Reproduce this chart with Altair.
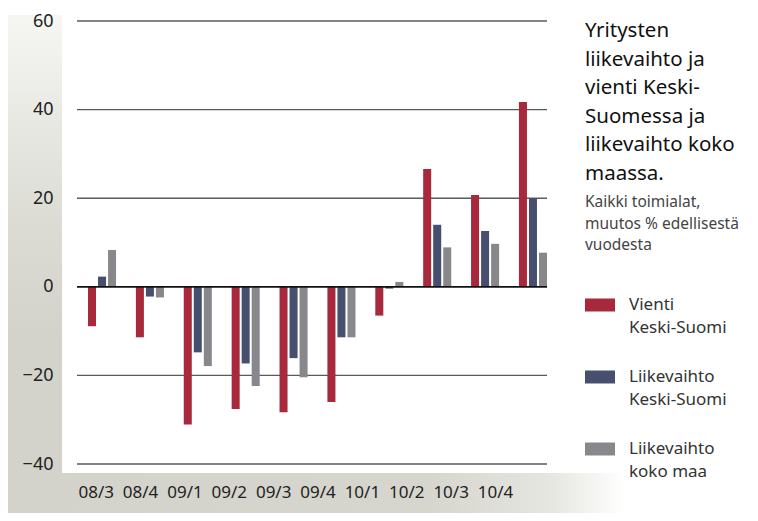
import altair as alt
import pandas as pd

kaudet = ["08/3", "08/4", "09/1", "09/2", "09/3", "09/4", "10/1", "10/2", "10/3", "10/4"]
sarjat = ["Vienti Keski-Suomi", "Liikevaihto Keski-Suomi", "Liikevaihto koko maa"]
vienti_ks = [-8.9, -11.4, -31.1, -27.6, -28.3, -26.0, -6.5, 26.6, 20.7, 41.7]
liikevaihto_ks = [2.3, -2.2, -14.8, -17.3, -16.1, -11.4, -0.4, 14.0, 12.6, 20.0]
liikevaihto_maa = [8.3, -2.4, -17.9, -22.4, -20.4, -11.4, 1.1, 8.9, 9.7, 7.7]
varit = ["#a8293b", "#464f6d", "#88888c"]
y_arvot = [-40, -20, 0, 20, 40, 60]
otsikko = ["Yritysten", "liikevaihto ja", "vienti Keski-", "Suomessa ja", "liikevaihto koko", "maassa."]
alaotsikko = ["Kaikki toimialat,", "muutos % edellisestä", "vuodesta"]

FONT = "Noto Sans"

rows = []
for s, vals in zip(sarjat, [vienti_ks, liikevaihto_ks, liikevaihto_maa]):
    for k, v in zip(kaudet, vals):
        rows.append({"kausi": k, "sarja": s, "arvo": v})
df = pd.DataFrame(rows)

one = alt.Data(values=[{"a": 1}])

left_band = alt.Chart(one).mark_rect(
    color=alt.LinearGradient(
        gradient="linear", x1=0, x2=0, y1=0, y2=1,
        stops=[alt.GradientStop(color="#f6f6f3", offset=0),
               alt.GradientStop(color="#dcdcd5", offset=0.45),
               alt.GradientStop(color="#d3d3cb", offset=0.7),
               alt.GradientStop(color="#d3d3cb", offset=1)])
).encode(x=alt.value(-69), x2=alt.value(-15), y=alt.value(-6), y2=alt.value(452))

bottom_band = alt.Chart(one).mark_rect(
    color=alt.LinearGradient(
        gradient="linear", x1=0, x2=1, y1=0, y2=0,
        stops=[alt.GradientStop(color="#d3d3cb", offset=0),
               alt.GradientStop(color="#d6d6ce", offset=0.68),
               alt.GradientStop(color="#e6e6e1", offset=0.88),
               alt.GradientStop(color="#ffffff", offset=1)])
).encode(x=alt.value(-69), x2=alt.value(548), y=alt.value(452), y2=alt.value(492))

yscale = alt.Scale(domain=[-40, 60], nice=False, zero=False)
yaxis = alt.Axis(values=y_arvot, title=None, grid=False,
                 domain=False, ticks=False, labelPadding=24,
                 labelFontSize=18, labelFont=FONT, labelColor="#222", zindex=2)

grid = alt.Chart(pd.DataFrame({"v": [v for v in y_arvot if v != 0]})).mark_rule(
    color="#5a5a5a", strokeWidth=1.4
).encode(y=alt.Y("v:Q", scale=yscale, axis=yaxis))

bars = alt.Chart(df).mark_bar().encode(
    x=alt.X("kausi:N", sort=kaudet,
            scale=alt.Scale(domain=kaudet, range=[11, 470], paddingInner=0.414, paddingOuter=0),
            axis=None),
    xOffset=alt.XOffset("sarja:N", sort=sarjat,
                        scale=alt.Scale(domain=sarjat, paddingInner=0.2, paddingOuter=0)),
    y=alt.Y("arvo:Q", scale=yscale, axis=yaxis),
    color=alt.Color("sarja:N", sort=sarjat,
                    scale=alt.Scale(domain=sarjat, range=varit),
                    legend=alt.Legend(
                        title=None, orient="none", legendX=508, legendY=261,
                        symbolType="M-1,0.1H1V0.966H-1Z", symbolSize=900,
                        symbolStrokeWidth=0, symbolOpacity=1,
                        labelFont=FONT, labelFontSize=17, labelColor="#333",
                        labelBaseline="top", labelOffset=14, labelLimit=300,
                        rowPadding=18, padding=0,
                        labelExpr="[substring(datum.label, 0, indexof(datum.label, ' ')), substring(datum.label, indexof(datum.label, ' ') + 1)]")),
)

zero = alt.Chart(pd.DataFrame({"v": [0]})).mark_rule(color="#111", strokeWidth=1.8).encode(
    y=alt.Y("v:Q", scale=yscale, axis=yaxis))

xlabels = alt.Chart(pd.DataFrame({"kausi": kaudet})).mark_point(opacity=0).encode(
    x=alt.X("kausi:N", sort=kaudet,
            scale=alt.Scale(type="point", domain=kaudet, range=[18.7, 418], padding=0),
            axis=alt.Axis(orient="bottom", title=None, domain=False, ticks=False, grid=False,
                          labelPadding=20, labelFontSize=17, labelFont=FONT,
                          labelColor="#222", labelAngle=0, zindex=2)),
    y=alt.value(0),
)

title = alt.Chart(pd.DataFrame({"t": ["\n".join(otsikko)]})).mark_text(
    align="left", baseline="alphabetic", lineBreak="\n", lineHeight=28.5,
    font=FONT, fontSize=20.5, color="#111"
).encode(text="t:N", x=alt.value(508), y=alt.value(16))

subtitle = alt.Chart(pd.DataFrame({"t": ["\n".join(alaotsikko)]})).mark_text(
    align="left", baseline="alphabetic", lineBreak="\n", lineHeight=21.5,
    font=FONT, fontSize=15.5, color="#444"
).encode(text="t:N", x=alt.value(508), y=alt.value(186))

chart = alt.layer(left_band, bottom_band, grid, bars, zero, xlabels, title, subtitle).resolve_scale(
    x="independent"
).properties(
    width=470, height=443,
    autosize=alt.AutoSizeParams(type="none"),
    padding={"left": 69, "top": 13, "right": 203, "bottom": 49},
).configure(
    view=alt.ViewConfig(stroke=None),
    style={"guide-label": {"lineHeight": 23}},
)

chart.save("out.html", embed_options={"renderer": "svg", "actions": False})
